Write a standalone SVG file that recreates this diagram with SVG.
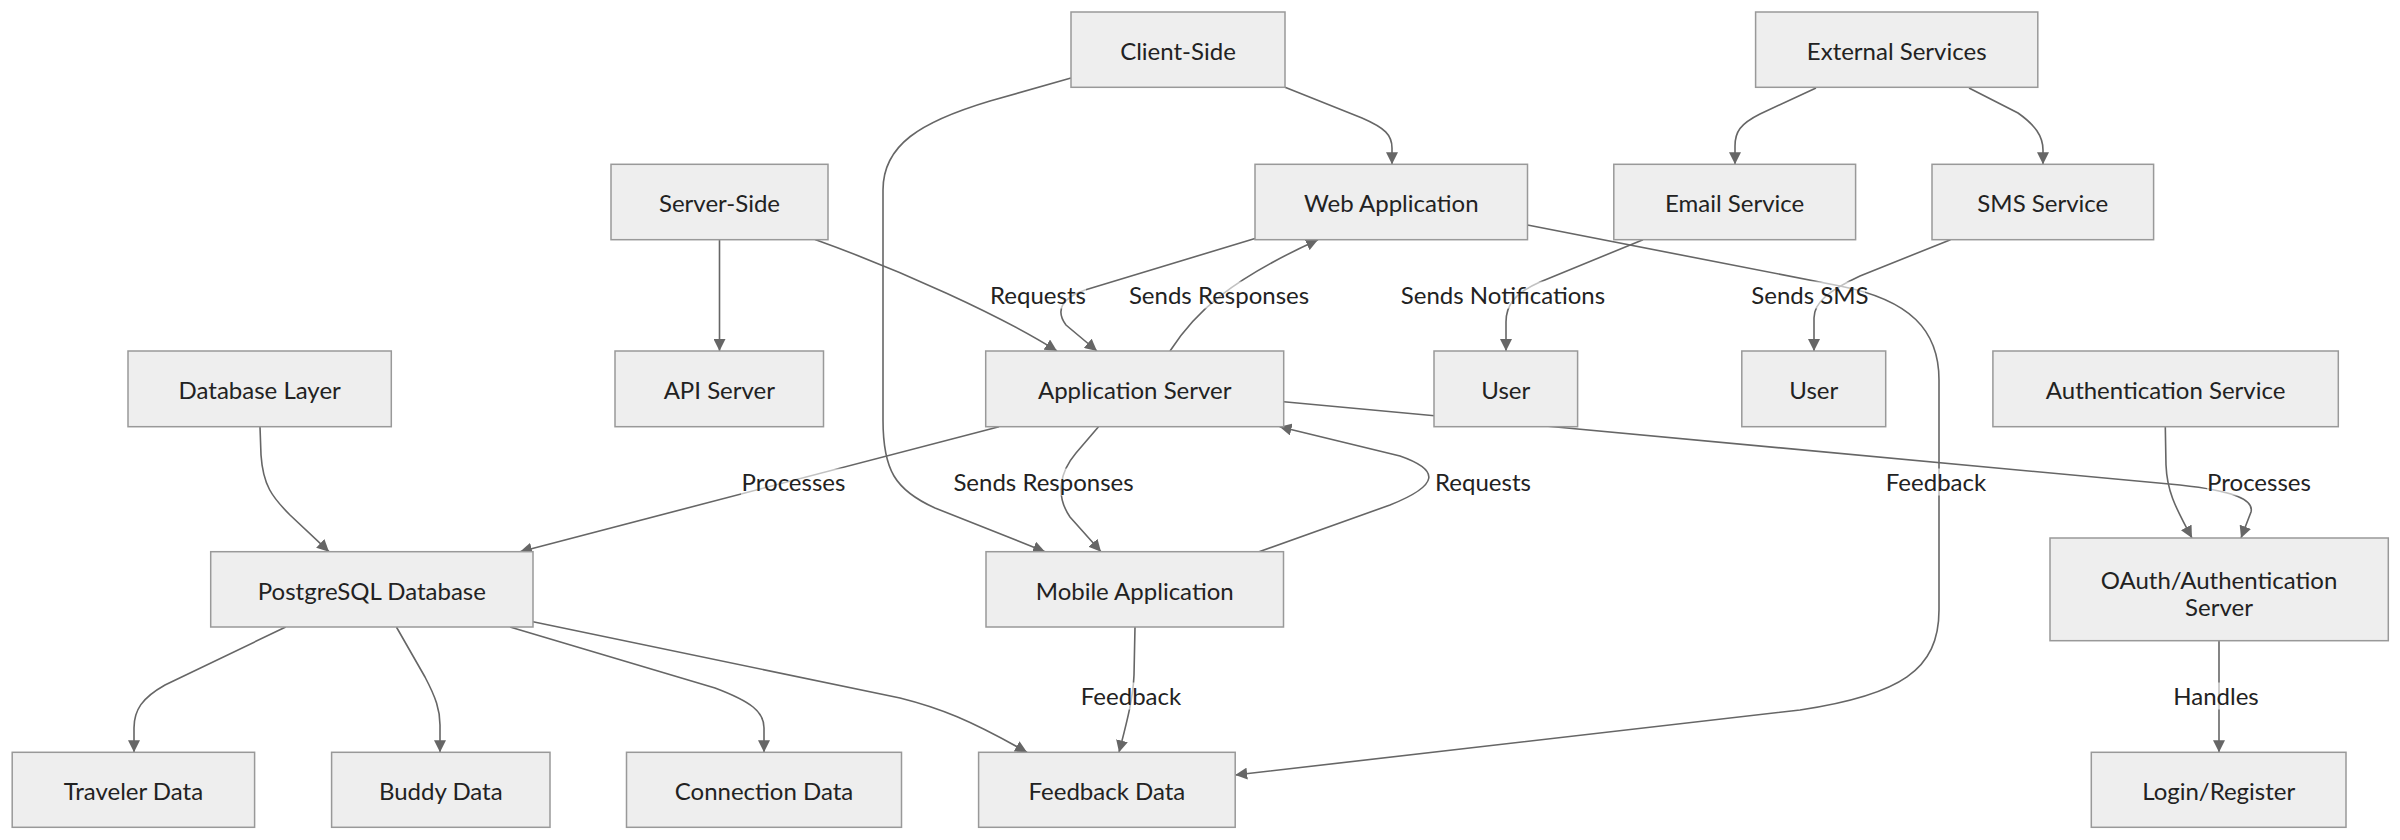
<svg xmlns="http://www.w3.org/2000/svg" width="2400" height="840" viewBox="0 0 2400 840">
<style>
.node rect{fill:#eeeeee;stroke:#999999;stroke-width:1.5}
.node text,.lbl text{font-family:Lato,"Noto Sans","DejaVu Sans",sans-serif;font-size:24px;fill:#222;text-anchor:middle}
.edge{fill:none;stroke:#666666;stroke-width:1.6}
.lbl rect{fill:#ffffff;fill-opacity:0.6}
</style>
<defs>
<marker id="arr" viewBox="0 0 12 12" refX="12" refY="6" markerWidth="12" markerHeight="12" markerUnits="userSpaceOnUse" orient="auto">
<path d="M0,0 L12,6 L0,12 z" fill="#666666"/>
</marker>
</defs>
<rect width="2400" height="840" fill="#ffffff"/>
<g id="connectors">
<path class="edge" marker-end="url(#arr)" d="M1285,87.3 L1362,118 C1385,128 1392,135 1392,148 L1392,164.3"/>
<path class="edge" marker-end="url(#arr)" d="M1071,78 L990,101 C920,122 883,145 883,190 L883,420 C883,470 895,490 935,508 L1045,551.7"/>
<path class="edge" marker-end="url(#arr)" d="M719.5,239.7 L719.5,351"/>
<path class="edge" marker-end="url(#arr)" d="M815,239.5 C900,270 1000,315 1057,351"/>
<path class="edge" marker-end="url(#arr)" d="M1255,238.5 L1085,290 C1062,298 1055,310 1066,325 L1097,351"/>
<path class="edge" marker-end="url(#arr)" d="M1170,351 C1195,312 1230,280 1318,239.7"/>
<path class="edge" marker-end="url(#arr)" d="M1643,239.7 L1540,282 C1515,293 1506,305 1506,322 L1506,351"/>
<path class="edge" marker-end="url(#arr)" d="M1816,88 L1760,114 C1740,124 1735,132 1735,146 L1735,164.3"/>
<path class="edge" marker-end="url(#arr)" d="M1969,88 L2018,113 C2035,125 2043,136 2043,150 L2043,164.3"/>
<path class="edge" marker-end="url(#arr)" d="M1950.5,239.7 L1860,276 C1830,290 1814,302 1814,318 L1814,351"/>
<path class="edge" marker-end="url(#arr)" d="M1527.5,225 L1840,286 C1910,300 1939,330 1939,380 L1939,610 C1939,670 1900,695 1800,710 L1235.2,775"/>
<path class="edge" marker-end="url(#arr)" d="M1283.7,401.7 L2180,485 C2235,491 2254,500 2251,512 L2241,538"/>
<path class="edge" marker-end="url(#arr)" d="M999,426.7 L520,551.7"/>
<path class="edge" marker-end="url(#arr)" d="M1098.5,426.7 L1076,453 C1060,472 1055,495 1070,517 L1101,551.7"/>
<path class="edge" marker-end="url(#arr)" d="M1259,551.7 L1390,505 C1440,485 1440,470 1400,456 L1279.6,426.7"/>
<path class="edge" marker-end="url(#arr)" d="M1135,627 L1134,675 C1133,700 1126,725 1119,752.3"/>
<path class="edge" marker-end="url(#arr)" d="M533,621.7 L900,698 C940,708 970,720 1027,752.3"/>
<path class="edge" marker-end="url(#arr)" d="M260,426.7 L261,455 C263,485 272,497 290,515 L329,551.7"/>
<path class="edge" marker-end="url(#arr)" d="M285.7,627 L165,685 C142,698 134,710 134,728 L134,752.3"/>
<path class="edge" marker-end="url(#arr)" d="M396.4,627 L425,677 C436,698 440,710 440,725 L440,752.3"/>
<path class="edge" marker-end="url(#arr)" d="M510,627 L715,688 C752,702 764,712 764,728 L764,752.3"/>
<path class="edge" marker-end="url(#arr)" d="M2165.3,426.7 L2166,465 C2167,490 2174,505 2192,538"/>
<path class="edge" marker-end="url(#arr)" d="M2219,640.7 L2219,752.3"/>
</g>
<g id="edge-labels">
<g class="lbl"><rect x="990" y="281.5" width="96" height="27"/><text x="1038" y="303.7">Requests</text></g>
<g class="lbl"><rect x="1130" y="281.5" width="178" height="27"/><text x="1219" y="303.7">Sends Responses</text></g>
<g class="lbl"><rect x="1398" y="281.5" width="210" height="27"/><text x="1503" y="303.7">Sends Notifications</text></g>
<g class="lbl"><rect x="1755" y="281.5" width="110" height="27"/><text x="1810" y="303.7">Sends SMS</text></g>
<g class="lbl"><rect x="741" y="468.5" width="105" height="27"/><text x="793.5" y="490.7">Processes</text></g>
<g class="lbl"><rect x="954" y="468.5" width="180" height="27"/><text x="1043.5" y="490.7">Sends Responses</text></g>
<g class="lbl"><rect x="1435" y="468.5" width="96" height="27"/><text x="1483" y="490.7">Requests</text></g>
<g class="lbl"><rect x="1884" y="468.5" width="104" height="27"/><text x="1936" y="490.7">Feedback</text></g>
<g class="lbl"><rect x="2207" y="468.5" width="104" height="27"/><text x="2259" y="490.7">Processes</text></g>
<g class="lbl"><rect x="1079" y="682.5" width="104" height="27"/><text x="1131" y="704.7">Feedback</text></g>
<g class="lbl"><rect x="2172" y="682.5" width="88" height="27"/><text x="2216" y="704.7">Handles</text></g>
</g>
<g id="client-side" class="node"><rect x="1071" y="12" width="214" height="75.3"/><text x="1178" y="59.9">Client-Side</text></g>
<g id="external-services" class="node"><rect x="1755.6" y="12" width="282.2" height="75.3"/><text x="1896.7" y="59.9">External Services</text></g>
<g id="server-side" class="node"><rect x="611" y="164.3" width="217" height="75.4"/><text x="719.5" y="212.2">Server-Side</text></g>
<g id="web-application" class="node"><rect x="1255" y="164.3" width="272.5" height="75.4"/><text x="1391.3" y="212.2">Web Application</text></g>
<g id="email-service" class="node"><rect x="1613.8" y="164.3" width="241.8" height="75.4"/><text x="1734.7" y="212.2">Email Service</text></g>
<g id="sms-service" class="node"><rect x="1932" y="164.3" width="221.6" height="75.4"/><text x="2042.8" y="212.2">SMS Service</text></g>
<g id="database-layer" class="node"><rect x="128" y="351" width="263.3" height="75.7"/><text x="259.7" y="399">Database Layer</text></g>
<g id="api-server" class="node"><rect x="615" y="351" width="208.5" height="75.7"/><text x="719.3" y="399">API Server</text></g>
<g id="application-server" class="node"><rect x="985.7" y="351" width="298" height="75.7"/><text x="1134.7" y="399">Application Server</text></g>
<g id="user-1" class="node"><rect x="1434" y="351" width="143.6" height="75.7"/><text x="1505.8" y="399">User</text></g>
<g id="user-2" class="node"><rect x="1741.8" y="351" width="143.9" height="75.7"/><text x="1813.8" y="399">User</text></g>
<g id="authentication-service" class="node"><rect x="1992.9" y="351" width="345.4" height="75.7"/><text x="2165.6" y="399">Authentication Service</text></g>
<g id="postgresql-database" class="node"><rect x="210.7" y="551.7" width="322.3" height="75.3"/><text x="371.9" y="599.6">PostgreSQL Database</text></g>
<g id="mobile-application" class="node"><rect x="986" y="551.7" width="297.5" height="75.3"/><text x="1134.7" y="599.6">Mobile Application</text></g>
<g id="oauth-server" class="node"><rect x="2050" y="538" width="338.3" height="102.7"/><text x="2219" y="588.5">OAuth/Authentication</text><text x="2219" y="615.5">Server</text></g>
<g id="traveler-data" class="node"><rect x="12.2" y="752.3" width="242.4" height="75"/><text x="133.4" y="800">Traveler Data</text></g>
<g id="buddy-data" class="node"><rect x="331.6" y="752.3" width="218.4" height="75"/><text x="440.8" y="800">Buddy Data</text></g>
<g id="connection-data" class="node"><rect x="626.5" y="752.3" width="275" height="75"/><text x="764" y="800">Connection Data</text></g>
<g id="feedback-data" class="node"><rect x="978.6" y="752.3" width="256.6" height="75"/><text x="1106.9" y="800">Feedback Data</text></g>
<g id="login-register" class="node"><rect x="2091.3" y="752.3" width="254.7" height="75"/><text x="2218.7" y="800">Login/Register</text></g>
</svg>
